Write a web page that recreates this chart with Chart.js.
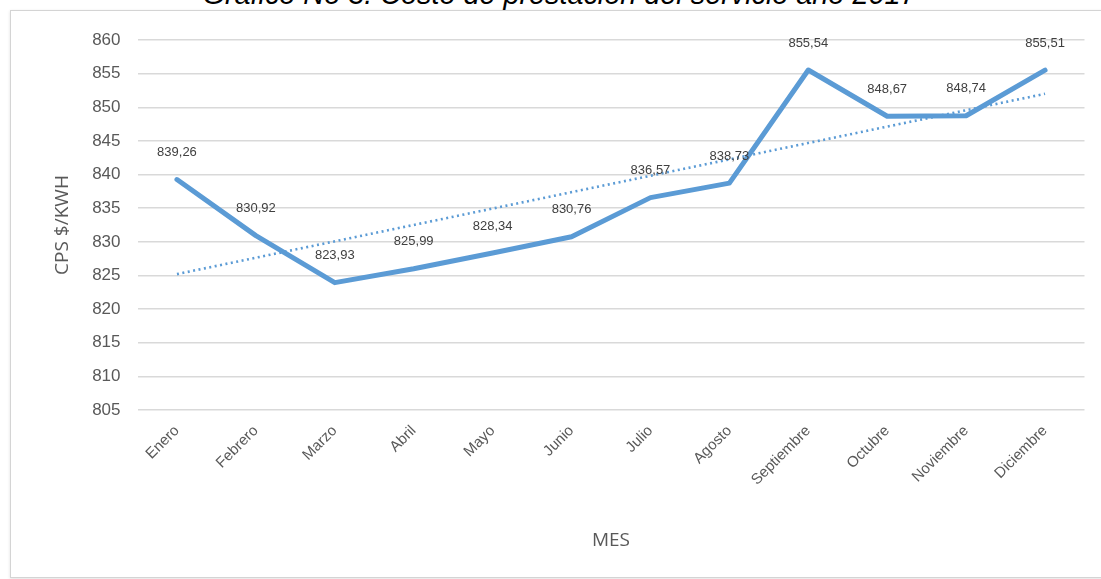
<!DOCTYPE html>
<html lang="es">
<head>
<meta charset="utf-8">
<title>Costo de prestación del servicio año 2017</title>
<script src="https://cdn.jsdelivr.net/npm/chart.js@4.4.1/dist/chart.umd.min.js"></script>
<style>
  html, body { margin: 0; padding: 0; background: #fff; }
  body { width: 1101px; height: 579px; position: relative; overflow: hidden; font-family: "Liberation Sans", Arial, sans-serif; }
  .titulo {
    position: absolute; left: 0; width: 1119px; top: -20px;
    text-align: center; font-style: italic; font-size: 28.8px; line-height: 28px; color: #000; white-space: nowrap;
  }
  .marco {
    position: absolute; left: 10px; top: 10px; width: 1100px; height: 566px;
    border: 1.5px solid #d4d4d4; box-shadow: 0 1px 3px rgba(0,0,0,.12);
  }
  .lienzo { position: absolute; left: 0; top: 0; width: 1101px; height: 579px; }
</style>
</head>
<body>
<div class="titulo">Gráfico No 3. Costo de prestación del servicio año 2017</div>
<div class="marco"></div>
<div class="lienzo"><canvas id="grafico"></canvas></div>
<script>
// Datos
const MESES = ['Enero', 'Febrero', 'Marzo', 'Abril', 'Mayo', 'Junio', 'Julio', 'Agosto', 'Septiembre', 'Octubre', 'Noviembre', 'Diciembre'];
const CPS = [839.26, 830.92, 823.93, 825.99, 828.34, 830.76, 836.57, 838.73, 855.54, 848.67, 848.74, 855.51];
// línea de tendencia: solo extremos, el tramo se une con spanGaps
const TENDENCIA = [825.2, null, null, null, null, null, null, null, null, null, null, 852.0];
const Y_MIN = 805;
const Y_MAX = 860;
const Y_PASO = 5;

const AZUL = '#5B9BD5';
const GRIS_TEXTO = '#595959';
const GRIS_GRADE = '#d9d9d9';

const formato = (v) => v.toFixed(2).replace('.', ',');

// etiquetas de valor encima de cada punto
const etiquetas = {
  id: 'etiquetas',
  afterDatasetsDraw(chart) {
    const { ctx } = chart;
    const meta = chart.getDatasetMeta(0);
    ctx.save();
    ctx.font = '13px "Liberation Sans", Arial, sans-serif';
    ctx.fillStyle = '#404040';
    ctx.textAlign = 'center';
    ctx.textBaseline = 'middle';
    meta.data.forEach((p, i) => {
      ctx.fillText(formato(CPS[i]), p.x, p.y - 27);
    });
    ctx.restore();
  },
};

new Chart(document.getElementById('grafico'), {
  type: 'line',
  data: {
    labels: MESES,
    datasets: [
      {
        label: 'CPS',
        data: CPS,
        borderColor: AZUL, backgroundColor: AZUL,
        borderWidth: 5, pointRadius: 0, tension: 0,
        borderJoinStyle: 'round', borderCapStyle: 'round',
        order: 1,
      },
      {
        label: 'Tendencia',
        data: TENDENCIA,
        spanGaps: true,
        borderColor: AZUL, backgroundColor: AZUL,
        borderWidth: 2.6, borderDash: [2, 3.5], pointRadius: 0, tension: 0,
        order: 2,
      },
    ],
  },
  options: {
    responsive: true, maintainAspectRatio: false, animation: false,
    layout: { padding: { top: 40, right: 16.5, left: 0, bottom: 0 } },
    plugins: { legend: { display: false }, tooltip: { enabled: false } },
    scales: {
      y: {
        min: Y_MIN, max: Y_MAX,
        border: { display: false },
        grid: { color: GRIS_GRADE, lineWidth: 1.5, drawTicks: false },
        ticks: { stepSize: Y_PASO, padding: 17, color: GRIS_TEXTO, font: { size: 17, family: '"Liberation Sans", Arial, sans-serif' } },
        title: { display: true, text: 'CPS $/KWH', color: GRIS_TEXTO, padding: { top: 51 }, font: { size: 19, family: '"Open Sans", sans-serif' } },
        afterFit: (s) => { s.width = 137.5; },
      },
      x: {
        offset: true,
        border: { display: false },
        grid: { display: false, drawTicks: false },
        ticks: { minRotation: 45, maxRotation: 45, padding: 12, color: GRIS_TEXTO, font: { size: 15, family: '"Liberation Sans", Arial, sans-serif' } },
        title: { display: true, text: 'MES', color: GRIS_TEXTO, padding: { bottom: 27 }, font: { size: 19, family: '"Open Sans", sans-serif' } },
        afterFit: (s) => { s.height = 169; },
      },
    },
  },
  plugins: [etiquetas],
});
</script>
</body>
</html>
